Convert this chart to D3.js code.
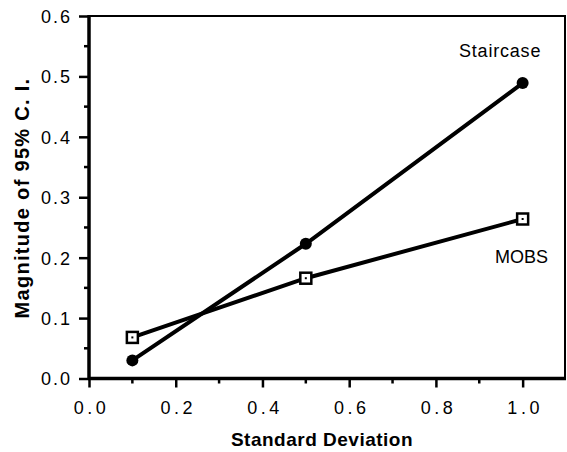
<!DOCTYPE html>
<html>
<head>
<meta charset="utf-8">
<script src="https://cdn.jsdelivr.net/npm/d3@7"></script>
<style>
  body { margin: 0; background: #fff; }
  text { font-family: "Liberation Sans", Arial, sans-serif; fill: #000; }
</style>
</head>
<body>
<script>
// Chart data
var sdValues = [0.1, 0.5, 1.0];
var staircaseCI = [0.03, 0.223, 0.489];
var mobsCI = [0.068, 0.166, 0.264];
var xTicks = [0.0, 0.2, 0.4, 0.6, 0.8, 1.0];
var yTicks = [0.0, 0.1, 0.2, 0.3, 0.4, 0.5, 0.6];

var svgWidth = 567;
var svgHeight = 452;

var svg = d3.select("body")
  .append("svg")
  .attr("width", svgWidth)
  .attr("height", svgHeight);

// scales
var xScale = d3.scaleLinear().domain([0, 1.1]).range([89, 566]);
var yScale = d3.scaleLinear().domain([0, 0.6]).range([378.5, 16]);

// frame: top and right thinner
svg.append("line")
  .attr("x1", xScale(0)).attr("x2", xScale(1.1))
  .attr("y1", yScale(0.6)).attr("y2", yScale(0.6))
  .attr("stroke", "#000").attr("stroke-width", 2);
svg.append("line")
  .attr("x1", xScale(1.1) - 1).attr("x2", xScale(1.1) - 1)
  .attr("y1", yScale(0.6)).attr("y2", yScale(0))
  .attr("stroke", "#000").attr("stroke-width", 2);

// x axis
var xAxis = d3.axisBottom(xScale)
  .tickValues(xTicks)
  .tickSize(9)
  .tickFormat(d3.format(".1f"));
var gx = svg.append("g")
  .attr("transform", "translate(0," + yScale(0) + ")")
  .call(xAxis);
gx.select(".domain").remove();
gx.selectAll(".tick line").attr("stroke-width", 2.5);
gx.selectAll(".tick text")
  .attr("y", 23)
  .attr("dy", "0.71em")
  .attr("dx", 2)
  .style("font-size", "18px")
  .style("letter-spacing", "3.5px");
// minor x ticks
svg.selectAll(".xminor")
  .data(d3.range(1, 11, 2).map(function(d) { return d / 10; }))
  .enter()
  .append("line")
  .attr("x1", function(d) { return xScale(d); })
  .attr("x2", function(d) { return xScale(d); })
  .attr("y1", yScale(0))
  .attr("y2", yScale(0) + 5)
  .attr("stroke", "#000")
  .attr("stroke-width", 2.5);

// y axis
var yAxis = d3.axisLeft(yScale)
  .tickValues(yTicks)
  .tickSize(10)
  .tickFormat(d3.format(".1f"));
var gy = svg.append("g")
  .attr("transform", "translate(" + xScale(0) + ",0)")
  .call(yAxis);
gy.select(".domain").remove();
gy.selectAll(".tick line").attr("stroke-width", 2.5);
gy.selectAll(".tick text")
  .attr("x", -17)
  .attr("dy", "0.36em")
  .style("font-size", "18px")
  .style("letter-spacing", "2px");
// minor y ticks
svg.selectAll(".yminor")
  .data(d3.range(1, 12, 2).map(function(d) { return d / 20; }))
  .enter()
  .append("line")
  .attr("x1", xScale(0))
  .attr("x2", xScale(0) - 5)
  .attr("y1", function(d) { return yScale(d); })
  .attr("y2", function(d) { return yScale(d); })
  .attr("stroke", "#000")
  .attr("stroke-width", 2.5);

// thick axis lines
svg.append("line")
  .attr("x1", xScale(0) - 1).attr("x2", xScale(1.1))
  .attr("y1", yScale(0)).attr("y2", yScale(0))
  .attr("stroke", "#000").attr("stroke-width", 3.5);
svg.append("line")
  .attr("x1", xScale(0)).attr("x2", xScale(0))
  .attr("y1", yScale(0.6) - 1).attr("y2", yScale(0) + 1)
  .attr("stroke", "#000").attr("stroke-width", 3.5);

// lines
var line = d3.line()
  .x(function(d) { return xScale(d[0]); })
  .y(function(d) { return yScale(d[1]); });

var staircase = d3.zip(sdValues, staircaseCI);
var mobs = d3.zip(sdValues, mobsCI);

svg.append("path")
  .datum(mobs)
  .attr("d", line)
  .attr("fill", "none")
  .attr("stroke", "#000")
  .attr("stroke-width", 4);
svg.append("path")
  .datum(staircase)
  .attr("d", line)
  .attr("fill", "none")
  .attr("stroke", "#000")
  .attr("stroke-width", 4);

// staircase markers: filled dots
svg.selectAll(".dot")
  .data(staircase)
  .enter()
  .append("circle")
  .attr("cx", function(d) { return xScale(d[0]); })
  .attr("cy", function(d) { return yScale(d[1]); })
  .attr("r", 6)
  .attr("fill", "#000");

// MOBS markers: open square with a centre dot
svg.selectAll(".sq")
  .data(mobs)
  .enter()
  .append("rect")
  .attr("x", function(d) { return xScale(d[0]) - 5.5; })
  .attr("y", function(d) { return yScale(d[1]) - 5.5; })
  .attr("width", 11)
  .attr("height", 11)
  .attr("fill", "#fff")
  .attr("stroke", "#000")
  .attr("stroke-width", 2.5);
svg.selectAll(".sqdot")
  .data(mobs)
  .enter()
  .append("rect")
  .attr("x", function(d) { return xScale(d[0]) - 1; })
  .attr("y", function(d) { return yScale(d[1]) - 1; })
  .attr("width", 2)
  .attr("height", 2)
  .attr("fill", "#000");

// series labels
svg.append("text")
  .attr("x", 459)
  .attr("y", 57)
  .style("font-size", "18px")
  .style("letter-spacing", "0.8px")
  .text("Staircase");
svg.append("text")
  .attr("x", 495)
  .attr("y", 263)
  .style("font-size", "18px")
  .text("MOBS");

// axis titles
svg.append("text")
  .attr("x", 322)
  .attr("y", 446)
  .attr("text-anchor", "middle")
  .style("font-size", "19px")
  .style("font-weight", "bold")
  .style("letter-spacing", "0.5px")
  .text("Standard Deviation");
svg.append("text")
  .attr("transform", "translate(29,198) rotate(-90)")
  .attr("text-anchor", "middle")
  .style("font-size", "20px")
  .style("font-weight", "bold")
  .style("letter-spacing", "1.3px")
  .text("Magnitude of 95% C. I.");
</script>
</body>
</html>
